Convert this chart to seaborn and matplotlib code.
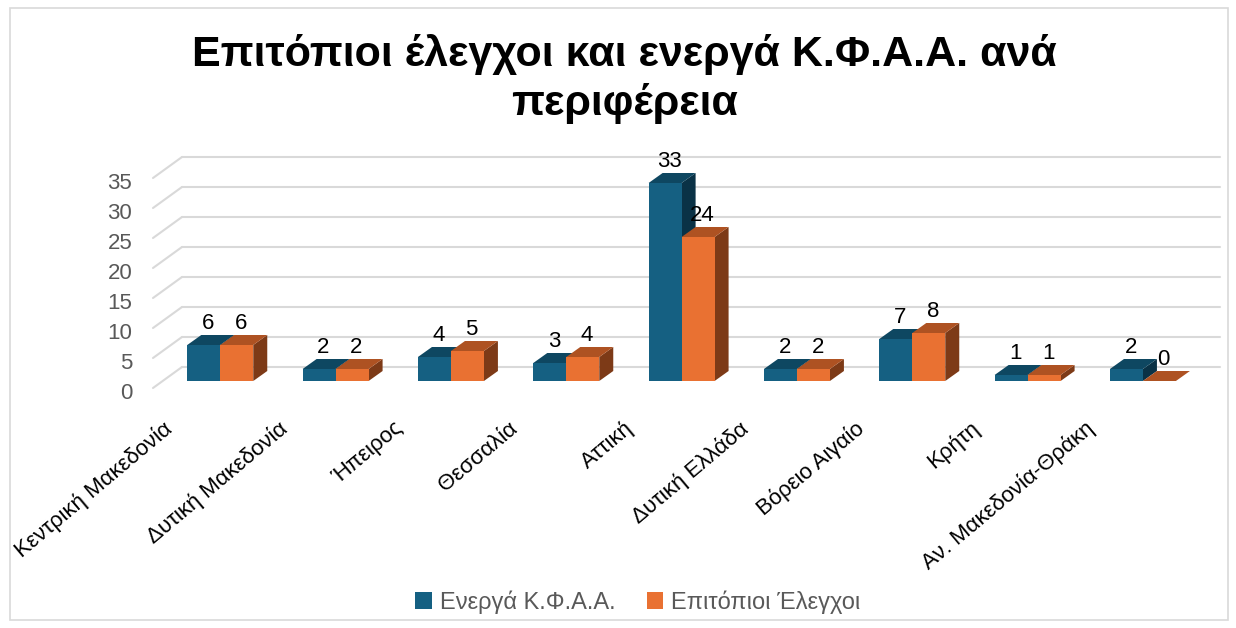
import numpy as np
import pandas as pd
import matplotlib
matplotlib.use("Agg")
import matplotlib.pyplot as plt
from matplotlib.patches import Polygon, Rectangle
from matplotlib.transforms import ScaledTranslation
import seaborn as sns

# ---- data ----
regions = ["Κεντρική Μακεδονία", "Δυτική Μακεδονία", "Ήπειρος", "Θεσσαλία", "Αττική",
           "Δυτική Ελλάδα", "Βόρειο Αιγαίο", "Κρήτη", "Αν. Μακεδονία-Θράκη"]
active = [6, 2, 4, 3, 33, 2, 7, 1, 2]
inspections = [6, 2, 5, 4, 24, 2, 8, 1, 0]
series_names = ["Ενεργά Κ.Φ.Α.Α.", "Επιτόπιοι Έλεγχοι"]
yticks = [0, 5, 10, 15, 20, 25, 30, 35]
title = "Επιτόπιοι έλεγχοι και ενεργά Κ.Φ.Α.Α. ανά\nπεριφέρεια"

df = pd.DataFrame({
    "region": regions * 2,
    "value": active + inspections,
    "series": [series_names[0]] * len(regions) + [series_names[1]] * len(regions),
})

front = {series_names[0]: "#156082", series_names[1]: "#E97132"}
topc = {series_names[0]: "#0E4761", series_names[1]: "#AE5222"}
sidec = {series_names[0]: "#0A3246", series_names[1]: "#7D3A17"}

sns.set_theme(style="white")
plt.rcParams["font.family"] = ["Liberation Sans", "DejaVu Sans"]

W, H, DPI = 1236, 628, 100
fig = plt.figure(figsize=(W / DPI, H / DPI), dpi=DPI)
fig.patch.set_facecolor("white")

ax_l, ax_r, ax_b, ax_t = 153, 1191, 388, 172
ax = fig.add_axes([ax_l / W, (H - ax_b) / H, (ax_r - ax_l) / W, (ax_b - ax_t) / H])
ax.set_xlim(-0.5, len(regions) - 0.5)
ax.set_ylim(0, 36)
ax.patch.set_alpha(0)

pxx = (len(regions)) / (ax_r - ax_l)   # data units per pixel (x)
pxy = 36 / (ax_b - ax_t)               # data units per pixel (y)

# back wall / floor offsets
wdx, wdy = 29 * pxx, 21 * pxy
# bar depth placement
bdx0, bdy0 = 9.6 * pxx, 7 * pxy
bdx, bdy = 14 * pxx, 10 * pxy

# gridlines on back wall and left wall diagonals
for v in yticks:
    ax.plot([-0.5 + wdx, len(regions) - 0.5 + wdx], [v + wdy, v + wdy],
            color="#D9D9D9", lw=1.5, zorder=0, clip_on=False)
    ax.plot([-0.5, -0.5 + wdx], [v, v + wdy], color="#D9D9D9", lw=1.5,
            zorder=0, clip_on=False)

sns.barplot(data=df, x="region", y="value", hue="series", palette=front,
            width=0.572, dodge=True, saturation=1, ax=ax, legend=True,
            edgecolor="none", linewidth=0, zorder=2)

for ci, cont in enumerate(ax.containers):
    name = series_names[ci]
    for bar in cont:
        bar.set_x(bar.get_x() + bdx0)
        bar.set_y(bar.get_y() + bdy0)
        bar.set_zorder(2 + ci * 3)
        bar.set_clip_on(False)
        x0, y0, w, h = bar.get_x(), bar.get_y(), bar.get_width(), bar.get_height()
        side = Polygon([(x0 + w, y0), (x0 + w, y0 + h), (x0 + w + bdx, y0 + h + bdy),
                        (x0 + w + bdx, y0 + bdy)], closed=True, facecolor=sidec[name],
                       edgecolor="none", zorder=1 + ci * 3, clip_on=False)
        top = Polygon([(x0, y0 + h), (x0 + w, y0 + h), (x0 + w + bdx, y0 + h + bdy),
                       (x0 + bdx, y0 + h + bdy)], closed=True, facecolor=topc[name],
                      edgecolor="none", zorder=3 + ci * 3, clip_on=False)
        ax.add_patch(side)
        ax.add_patch(top)
        ax.text(x0 + w / 2 + bdx * 0.3, y0 + h + bdy + 6 * pxy, f"{int(round(h))}",
                ha="center", va="baseline", fontsize=16, color="black",
                zorder=10, clip_on=False)

# axes styling
sns.despine(ax=ax, left=True, bottom=True)
ax.set_xlabel("")
ax.set_ylabel("")
ax.set_yticks(yticks)
ax.set_yticklabels([str(v) for v in yticks])
ax.tick_params(axis="y", length=0, pad=15, labelsize=16, labelcolor="#595959")
for lbl in ax.get_yticklabels():
    lbl.set_transform(lbl.get_transform() + ScaledTranslation(0, -3 / DPI, fig.dpi_scale_trans))

ax.set_xticks(range(len(regions)))
ax.set_xticklabels([])
ax.tick_params(axis="x", length=0)
for i, r in enumerate(regions):
    ax.text(i + bdx0 + bdx / 2 - 58 * pxx, -38 * pxy, r, rotation=40,
            rotation_mode="anchor", ha="right", va="center", fontsize=16,
            color="black", clip_on=False)

# legend
handles, labels = ax.get_legend_handles_labels()
ax.get_legend().remove()
fig.legend(handles, labels, loc="center", bbox_to_anchor=(638 / W, 1 - 602 / H),
           ncol=2, frameon=False, fontsize=17, labelcolor="#595959",
           handlelength=0.7, handleheight=0.7, handletextpad=0.35,
           columnspacing=1.3)

# title
fig.text(624 / W, 1 - 79 / H, title, ha="center", va="center", fontsize=31,
         fontweight="bold", color="black", linespacing=1.25)

# outer border
fig.patches.append(Rectangle((10 / W, 8 / H), 1218 / W, 612 / H, transform=fig.transFigure,
                             fill=False, edgecolor="#D9D9D9", lw=1.2))

fig.savefig("out.png", dpi=DPI)
